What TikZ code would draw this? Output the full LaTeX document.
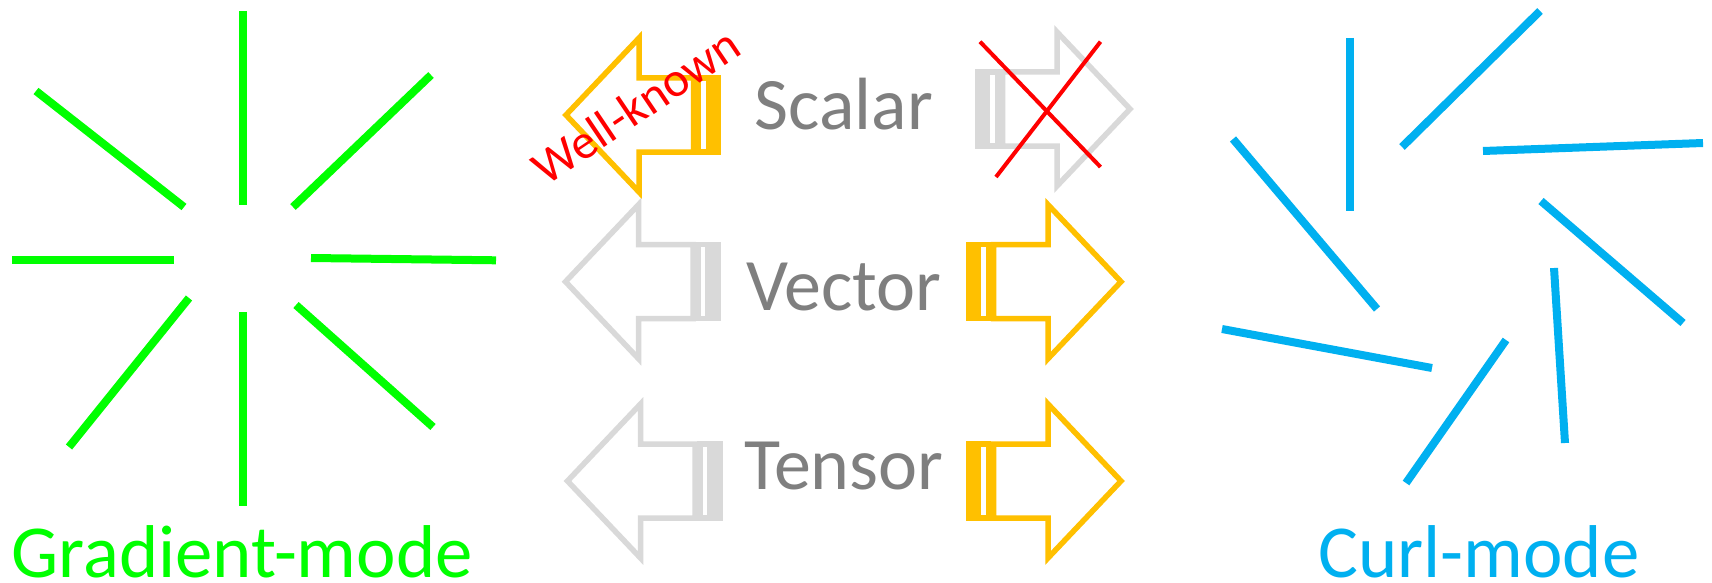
\documentclass[tikz,border=0pt]{standalone}
\usepackage{fontspec}
\setmainfont{Carlito}
\definecolor{gradgreen}{HTML}{00FF00}
\definecolor{curlblue}{HTML}{00B0F0}
\definecolor{gold}{HTML}{FFC000}
\definecolor{paleg}{HTML}{D9D9D9}
\definecolor{labelgray}{HTML}{7F7F7F}
\definecolor{crossred}{HTML}{FF0000}

% striped block arrow: #1 colour, #2 tail x, #3 centre y, #4 direction (1 right, -1 left)
\newcommand{\stripedarrow}[4]{%
  \begin{scope}[shift={(#2,#3)}, xscale=#4, draw=#1, line width=2.75pt, line join=miter]
    \draw (0,-37) rectangle (5,37);
    \draw (10,-37) rectangle (20,37);
    \draw (25,-37) -- (79.5,-37) -- (79.5,-77) -- (152.5,0)
          -- (79.5,77) -- (79.5,37) -- (25,37) -- cycle;
  \end{scope}}

\tikzset{
  gline/.style={draw=gradgreen, line width=4pt},
  cline/.style={draw=curlblue, line width=4pt},
  kind/.style={text=labelgray, inner sep=0pt, anchor=base,
    font=\fontsize{37}{40}\selectfont},
  modelabel/.style={inner sep=0pt, anchor=base west,
    font=\fontsize{37.4}{40}\selectfont},
  crossline/.style={draw=crossred, line width=2pt},
}

\begin{document}
\begin{tikzpicture}[x=0.5pt, y=-0.5pt]
  \fill[white] (0,0) rectangle (1712,583);
  \useasboundingbox (0,0) rectangle (1712,583);

  % gradient mode: spokes pointing away from a centre
  \draw[gline] (243,11) -- (243,205);
  \draw[gline] (36,91) -- (184,207);
  \draw[gline] (293,207) -- (431,75);
  \draw[gline] (12,260) -- (174,260);
  \draw[gline] (311,258) -- (496,260.3);
  \draw[gline] (69,447) -- (189,298);
  \draw[gline] (243,312) -- (243,506);
  \draw[gline] (296,305) -- (433,427);
  \node[modelabel, text=gradgreen] (grad) at (11,577) {Gradient-mode};

  % curl mode: spokes twisted around a centre
  \draw[cline] (1350,38) -- (1350,211);
  \draw[cline] (1402,147) -- (1540,11);
  \draw[cline] (1233,139) -- (1377,309);
  \draw[cline] (1483,151) -- (1703,143);
  \draw[cline] (1541,201) -- (1683,323);
  \draw[cline] (1222,329) -- (1432,368);
  \draw[cline] (1554,268) -- (1565,443);
  \draw[cline] (1506,340) -- (1406,483);
  \node[modelabel, text=curlblue] (curl) at (1318,577) {Curl-mode};

  % scalar row
  \stripedarrow{gold}{718.5}{115}{-1}
  \stripedarrow{paleg}{977.5}{109}{1}
  \node[kind] (scalar) at (844,130) {Scalar};
  \coordinate (xa) at (980,41.7);
  \coordinate (xb) at (1100.5,167);
  \coordinate (xc) at (1100.5,41.7);
  \coordinate (xd) at (996,177);
  \draw[crossline] (xa) -- (xb);
  \draw[crossline] (xc) -- (xd);
  \node[text=crossred, rotate=34, inner sep=0pt,
        font=\fontsize{24.5}{26}\selectfont] (known) at (636,106) {Well-known};

  % vector row
  \stripedarrow{paleg}{718}{281.7}{-1}
  \stripedarrow{gold}{968.5}{281.7}{1}
  \node[kind] (vector) at (844,310) {Vector};

  % tensor row
  \stripedarrow{paleg}{720}{481}{-1}
  \stripedarrow{gold}{968.5}{481}{1}
  \node[kind] (tensor) at (844,489) {Tensor};
\end{tikzpicture}
\end{document}
